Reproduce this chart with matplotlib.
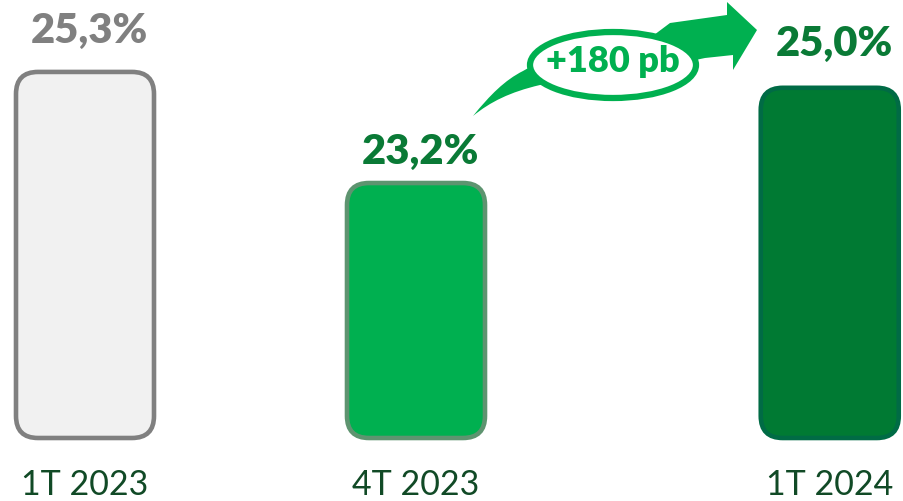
import matplotlib
matplotlib.use("Agg")
import matplotlib.pyplot as plt
from matplotlib.patches import FancyBboxPatch, Ellipse, PathPatch
from matplotlib.path import Path
import matplotlib.transforms as mtransforms

# ---- data ----
categories = ["1T 2023", "4T 2023", "1T 2024"]
values = [25.3, 23.2, 25.0]
value_labels = ["25,3%", "23,2%", "25,0%"]
change_label = "+180 pb"

# ---- layout / style ----
W, H, DPI = 904, 501, 100
xpos = [0, 1, 2.25]
fills = ["#f1f1f1", "#00b050", "#007a33"]
edges = ["#808080", "#5e9470", "#006b45"]
label_colors = ["#808080", "#0a7a36", "#0a7a36"]
label_offsets_px = [22, 12, 25]
base = 18.38
px_per_x = 331.0
px_per_y = 52.9
x0_px, y0_row = 85.0, 438.0

fig = plt.figure(figsize=(W / DPI, H / DPI), dpi=DPI)
ax = fig.add_axes([0, 0, 1, 1])
ax.set_xlim(-x0_px / px_per_x, (W - x0_px) / px_per_x)
ax.set_ylim(base - (H - y0_row) / px_per_y, base + y0_row / px_per_y)
ax.axis("off")

bar_w = 138 / px_per_x
aspect = px_per_x / px_per_y
rs = 22 / px_per_x
for x, v, fc, ec in zip(xpos, values, fills, edges):
    p = FancyBboxPatch((x - bar_w / 2, base), bar_w, v - base,
                       boxstyle=f"round,pad=0,rounding_size={rs}",
                       mutation_aspect=aspect, facecolor=fc, edgecolor=ec,
                       linewidth=3.3, zorder=2)
    ax.add_patch(p)

for x, v, lab, c, off in zip(xpos, values, value_labels, label_colors, label_offsets_px):
    ax.annotate(lab, (x, v), xytext=(3, off * 72 / DPI), textcoords="offset points",
                ha="center", va="bottom", fontsize=30, fontweight="heavy",
                family=["Lato", "DejaVu Sans"], color=c)

for x, cat in zip(xpos, categories):
    ax.text(x, base - 57 / px_per_y, cat, ha="center", va="baseline", fontsize=24.5,
            fontweight="normal", family=["Lato", "DejaVu Sans"], color="#114a26")

# ---- curved arrow (pixel coordinates) ----
pix = mtransforms.Affine2D().scale(1, -1).translate(0, H)
verts = [
    (473, 116),
    (490, 95), (505, 80), (523, 71),
    (560, 50),
    (650, 38),
    (670, 23),
    (727, 15),
    (727, 2),
    (757, 30),
    (733, 70),
    (733, 55),
    (705, 58),
    (600, 80),
    (540, 85),
    (510, 92), (490, 102), (473, 116),
]
codes = ([Path.MOVETO] + [Path.CURVE4] * 3 + [Path.LINETO] * 11 + [Path.CURVE4] * 3)
arrow = PathPatch(Path(verts, codes), facecolor="#00b050", edgecolor="none",
                  transform=pix, zorder=3)
ax.add_patch(arrow)
ell = Ellipse((613, 65), 166, 66, facecolor="white", edgecolor="#00b050",
              linewidth=4.5, transform=pix, zorder=4)
ax.add_patch(ell)
ax.text(613, 62, change_label, transform=pix,
        ha="center", va="center", fontsize=26, fontweight="heavy",
        family=["Lato", "DejaVu Sans"], color="#00b050", zorder=5)

fig.savefig("out.png", dpi=DPI)
